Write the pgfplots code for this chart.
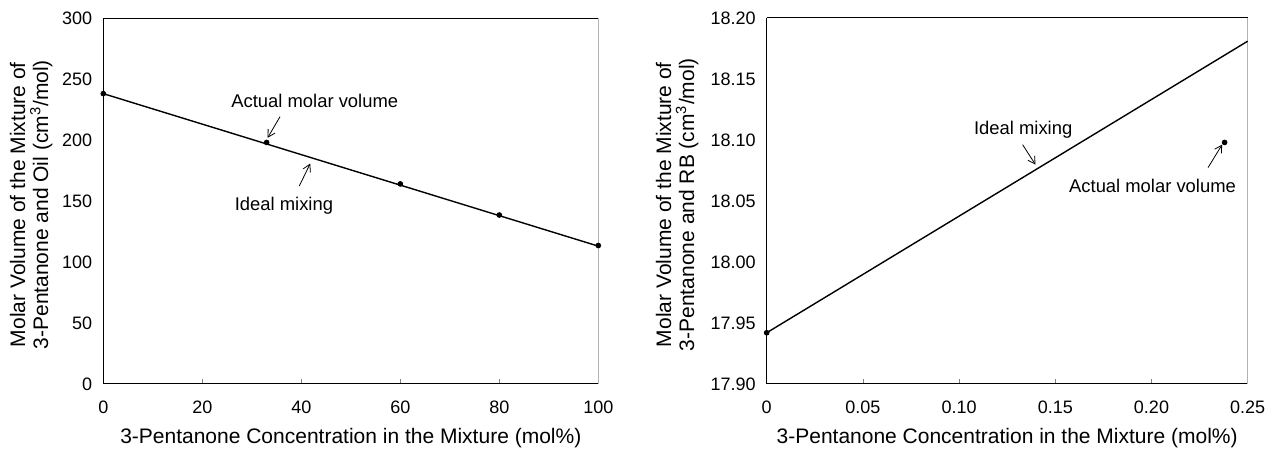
\documentclass[border=0pt]{standalone}
\usepackage{fontspec}
\setmainfont{Liberation Sans}
\usepackage{pgfplots}
\pgfplotsset{compat=1.18}
\usetikzlibrary{arrows.meta}

\newcommand\annfont{\fontsize{9.2}{11}\selectfont}

\pgfplotsset{
  molvol/.style={
    scale only axis,
    height=183pt,
    axis lines=left,
    axis line style={-, line width=0.5pt},
    tick align=inside,
    major tick length=2.5pt,
    ytick style={draw=none},
    xtick style={line width=0.4pt},
    clip=false,
    /pgf/number format/assume math mode=true,
    tick label style={font=\fontsize{9}{10}\selectfont},
    xticklabel style={yshift=-5pt},
    yticklabel style={xshift=-2pt},
    label style={font=\fontsize{10.5}{11.5}\selectfont},
    ylabel style={align=center, anchor=center},
    xlabel style={at={(axis description cs:0.5,-0.1475)}, anchor=center},
    xlabel={3-Pentanone Concentration in the Mixture (mol\%)},
  },
}
\tikzset{ann/.style={-{Straight Barb[length=3.5pt,width=4pt]}, line width=0.4pt}}

\begin{document}
\begin{tikzpicture}
\path[use as bounding box] (-51.65pt,-35pt) rectangle (585.85pt,192pt);

% left: oil mixture
\begin{axis}[molvol,
    width=247.5pt,
    xmin=0, xmax=100, ymin=0, ymax=300,
    xtick={0,20,40,60,80,100},
    ytick={0,50,100,150,200,250,300},
    ylabel style={at={(axis description cs:-0.1455,0.49)}},
    ylabel={Molar Volume of the Mixture of\\3-Pentanone and Oil (cm\textsuperscript{3}/mol)},
  ]
  \draw[line width=0.5pt] (rel axis cs:0,1) -- (rel axis cs:1,1);
  \draw[line width=0.5pt, gray!60] (rel axis cs:1,1) -- (rel axis cs:1,0);

  % ideal mixing
  \addplot[black, line width=0.7pt] coordinates {(0,238) (100,113)};
  % actual molar volume
  \addplot[black, only marks, mark=*, mark size=1.2pt] coordinates {
    (0,238) (33,198) (60,164) (80,138.5) (100,113.5)
  };

  \node[anchor=base west, font=\annfont, inner sep=0pt] at (axis cs:25.8,226.9) {Actual molar volume};
  \draw[ann] (axis cs:35.7,219.1) -- (axis cs:33.2,201.8);
  \node[anchor=base west, font=\annfont, inner sep=0pt] at (axis cs:26.5,141.9) {Ideal mixing};
  \draw[ann] (axis cs:39.6,162.3) -- (axis cs:41.8,180.7);
\end{axis}

% right: RB mixture
\begin{axis}[molvol,
    at={(331.7pt,0pt)},
    width=240.5pt,
    xmin=0, xmax=0.25, ymin=17.9, ymax=18.2,
    xtick={0,0.05,0.1,0.15,0.2,0.25},
    xticklabels={0,0.05,0.10,0.15,0.20,0.25},
    ytick={17.9,17.95,18,18.05,18.1,18.15,18.2},
    scaled y ticks=false,
    yticklabel style={/pgf/number format/fixed, /pgf/number format/fixed zerofill, /pgf/number format/precision=2},
    ylabel style={at={(axis description cs:-0.1863,0.49)}},
    ylabel={Molar Volume of the Mixture of\\3-Pentanone and RB (cm\textsuperscript{3}/mol)},
  ]
  \draw[line width=0.5pt] (rel axis cs:0,1) -- (rel axis cs:1,1);
  \draw[line width=0.5pt, gray!60] (rel axis cs:1,1) -- (rel axis cs:1,0);

  % ideal mixing
  \addplot[black, line width=0.7pt] coordinates {(0,17.942) (0.25,18.181)};
  % actual molar volume
  \addplot[black, only marks, mark=*, mark size=1.2pt] coordinates {
    (0,17.942) (0.238,18.098)
  };

  \node[anchor=base west, font=\annfont, inner sep=0pt] at (axis cs:0.1076,18.1044) {Ideal mixing};
  \draw[ann] (axis cs:0.1330,18.0962) -- (axis cs:0.1397,18.0798);
  \node[anchor=base west, font=\annfont, inner sep=0pt] at (axis cs:0.1570,18.0570) {Actual molar volume};
  \draw[ann] (axis cs:0.2294,18.0774) -- (axis cs:0.2367,18.0962);
\end{axis}
\end{tikzpicture}
\end{document}
